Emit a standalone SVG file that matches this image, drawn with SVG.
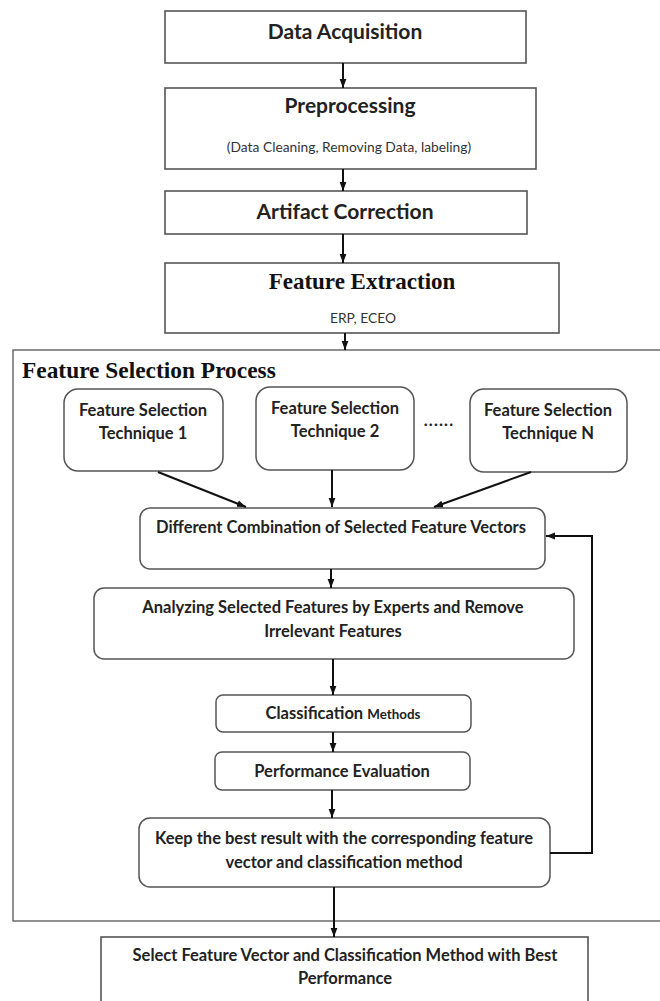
<svg xmlns="http://www.w3.org/2000/svg" width="660" height="1001" viewBox="0 0 660 1001">
<defs>
<marker id="ah" markerUnits="userSpaceOnUse" markerWidth="9" markerHeight="8" viewBox="0 0 9 8" refX="9" refY="4" orient="auto">
<path d="M0,0.6 L9,4 L0,7.4 Z" fill="#111"/>
</marker>
<style>
.box{fill:#fff;stroke:#555;stroke-width:1.6}
.rbox{fill:#fff;stroke:#555;stroke-width:1.5}
.outer{fill:none;stroke:#555;stroke-width:1.3}
.t{font-family:Lato,"Liberation Sans",sans-serif;font-weight:bold;fill:#222;text-anchor:middle}
.big{font-size:21px}
.body{font-size:16.5px}
.sub{font-family:Lato,"Liberation Sans",sans-serif;font-size:13.8px;fill:#333;text-anchor:middle}
.serif{font-family:"Liberation Serif",serif;font-weight:bold;fill:#111}
.c{fill:none;stroke:#111;stroke-width:2;marker-end:url(#ah)}
</style>
</defs>
<rect width="660" height="1001" fill="#fff"/>
<g id="feature-selection-process">
<rect class="outer" x="13" y="350" width="660" height="571"/>
<text class="serif" x="22" y="378" font-size="23.4">Feature Selection Process</text>
</g>
<g id="data-acquisition">
<rect class="box" x="165" y="11" width="361" height="52"/>
<text class="t big" x="345" y="39">Data Acquisition</text>
</g>
<g id="preprocessing">
<rect class="box" x="165" y="88" width="371" height="81"/>
<text class="t big" x="350" y="113">Preprocessing</text>
<text class="sub" x="349" y="152">(Data Cleaning, Removing Data, labeling)</text>
</g>
<g id="artifact-correction">
<rect class="box" x="165" y="191" width="362" height="43"/>
<text class="t big" x="345" y="219">Artifact Correction</text>
</g>
<g id="feature-extraction">
<rect class="box" x="165" y="263" width="394" height="70"/>
<text class="serif" x="362" y="289" font-size="23" text-anchor="middle">Feature Extraction</text>
<text class="sub" x="363" y="323" font-size="12.4">ERP, ECEO</text>
</g>
<g id="technique-1">
<rect class="rbox" x="64" y="389" width="159" height="82" rx="14"/>
<text class="t body" x="143" y="416">Feature Selection</text>
<text class="t body" x="143" y="439">Technique 1</text>
</g>
<g id="technique-2">
<rect class="rbox" x="256" y="387" width="158" height="83" rx="14"/>
<text class="t body" x="335" y="414">Feature Selection</text>
<text class="t body" x="335" y="437">Technique 2</text>
</g>
<g id="ellipsis">
<text class="t body" x="439" y="426" letter-spacing="1.2">......</text>
</g>
<g id="technique-n">
<rect class="rbox" x="470" y="389" width="157" height="83" rx="14"/>
<text class="t body" x="548" y="416">Feature Selection</text>
<text class="t body" x="548" y="439">Technique N</text>
</g>
<g id="combination">
<rect class="rbox" x="140" y="508" width="405" height="61" rx="10"/>
<text class="t body" x="341" y="533">Different Combination of Selected Feature Vectors</text>
</g>
<g id="analyzing">
<rect class="rbox" x="94" y="588" width="480" height="71" rx="10"/>
<text class="t body" x="333" y="613">Analyzing Selected Features by Experts and Remove</text>
<text class="t body" x="333" y="637">Irrelevant Features</text>
</g>
<g id="classification">
<rect class="rbox" x="216" y="695" width="255" height="37" rx="7"/>
<text class="t body" x="343" y="719">Classification <tspan font-size="13.4px">Methods</tspan></text>
</g>
<g id="performance">
<rect class="rbox" x="215" y="752" width="255" height="38" rx="7"/>
<text class="t body" x="342" y="777">Performance Evaluation</text>
</g>
<g id="keep-best">
<rect class="rbox" x="139" y="818" width="411" height="69" rx="11"/>
<text class="t body" x="344" y="844">Keep the best result with the corresponding feature</text>
<text class="t body" x="344" y="868">vector and classification method</text>
</g>
<g id="select-best">
<rect class="box" x="101" y="937" width="487" height="80"/>
<text class="t body" x="345" y="961">Select Feature Vector and Classification Method with Best</text>
<text class="t body" x="345" y="984">Performance</text>
</g>
<g id="connectors">
<line class="c" x1="343" y1="63" x2="343" y2="88"/>
<line class="c" x1="343" y1="169" x2="343" y2="191"/>
<line class="c" x1="343" y1="234" x2="343" y2="263"/>
<line class="c" x1="345" y1="333" x2="345" y2="350"/>
<line class="c" x1="158" y1="472" x2="246" y2="507"/>
<line class="c" x1="332" y1="470" x2="332" y2="507"/>
<line class="c" x1="531" y1="472" x2="434" y2="507"/>
<line class="c" x1="331" y1="569" x2="331" y2="588"/>
<line class="c" x1="333" y1="659" x2="333" y2="695"/>
<line class="c" x1="333" y1="732" x2="333" y2="752"/>
<line class="c" x1="332" y1="790" x2="332" y2="818"/>
<polyline class="c" points="550,853 592,853 592,536 546,536"/>
<line class="c" x1="334" y1="887" x2="334" y2="937"/>
</g>
</svg>
